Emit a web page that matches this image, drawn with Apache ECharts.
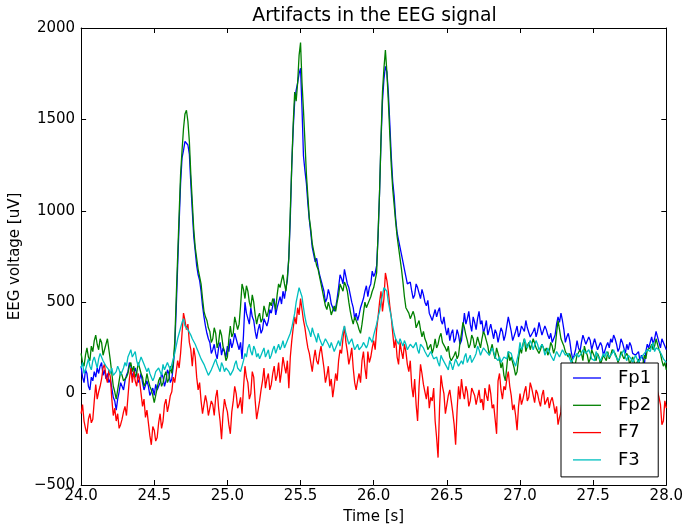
<!DOCTYPE html>
<html>
<head>
<meta charset="utf-8">
<title>Artifacts in the EEG signal</title>
<script src="https://cdn.jsdelivr.net/npm/echarts@6/dist/echarts.min.js"></script>
<style>
  html, body { margin: 0; padding: 0; background: #ffffff; }
  #chart { width: 686px; height: 530px; }
</style>
</head>
<body>
<div id="chart"></div>
<script>
// Sampling of the recording segment (seconds): 100 samples per second
const TIME_START = 24.0;
const SAMPLE_STEP = 0.01;

// Channel names, in drawing order
const channelNames = ['Fp1', 'Fp2', 'F7', 'F3'];
const channelColors = ['#0000ff', '#008000', '#ff0000', '#00bfbf'];

// Axis ticks
const timeTicks = [24.0, 24.5, 25.0, 25.5, 26.0, 26.5, 27.0, 27.5, 28.0];
const voltTicks = [-500, 0, 500, 1000, 1500, 2000];

// EEG voltage per channel [uV]; each row holds 0.1 s of samples
const fp1 = [
  150, 90, 60, 130, 110, 40, 20, 90, 70, 120,
  90, 140, 110, 150, 170, 100, 130, 80, 110, 60,
  80, 30, -20, -40, -90, -30, 10, 60, 40, 20,
  70, 100, 120, 170, 150, 90, 100, 140, 110, 60,
  80, 110, 60, 20, 30, 70, 40, -10, 10, 30,
  -10, 50, 20, 40, 60, 110, 90, 40, 70, 130,
  110, 60, 80, 150, 250, 460, 700, 930, 1150, 1290,
  1330, 1380, 1390, 1360, 1310, 1150, 1000, 860, 780, 700,
  650, 620, 560, 480, 420, 370, 330, 300, 280, 220,
  240, 270, 220, 190, 250, 280, 210, 250, 230, 200,
  260, 230, 300, 250, 280, 330, 320, 270, 240, 280,
  190, 320, 500, 440, 430, 380, 470, 420, 400, 340,
  300, 350, 380, 330, 350, 410, 420, 370, 400, 460,
  440, 480, 520, 430, 470, 500, 530, 490, 560, 520,
  580, 620, 750, 960, 1250, 1450, 1600, 1660, 1700, 1750,
  1780, 1560, 1300, 1220, 1150, 1040, 950, 880, 800, 760,
  720, 740, 690, 650, 620, 590, 560, 500, 520, 570,
  540, 490, 500, 450, 470, 520, 580, 650, 630, 600,
  680, 640, 600, 580, 540, 500, 470, 410, 440, 400,
  430, 470, 480, 520, 560, 590, 530, 580, 600, 670,
  640, 660, 700, 860, 1100, 1380, 1600, 1720, 1790, 1760,
  1650, 1480, 1300, 1160, 1080, 960, 880, 840, 800, 760,
  720, 680, 640, 600, 590, 610, 560, 520, 540, 600,
  580, 550, 520, 570, 540, 500, 480, 510, 440, 420,
  400, 430, 460, 420, 450, 470, 400, 380, 420, 360,
  320, 360, 290, 330, 350, 280, 300, 350, 320, 270,
  290, 360, 440, 380, 410, 450, 380, 340, 420, 390,
  350, 410, 450, 380, 400, 330, 360, 400, 320, 350,
  380, 340, 300, 350, 330, 280, 290, 360, 340, 290,
  320, 370, 420, 380, 340, 290, 300, 340, 370, 310,
  330, 370, 380, 340, 400, 360, 350, 310, 300, 340,
  360, 310, 340, 390, 380, 320, 330, 370, 350, 320,
  300, 330, 280, 300, 320, 380, 420, 390, 440, 400,
  350, 280, 310, 330, 290, 230, 190, 210, 240, 290,
  250, 230, 280, 320, 310, 270, 260, 310, 290, 240,
  250, 300, 270, 240, 230, 280, 260, 210, 220, 260,
  280, 250, 300, 280, 320, 300, 270, 230, 250, 300,
  280, 250, 220, 270, 240, 280, 260, 220, 230, 210,
  200, 230, 180, 210, 190, 160, 230, 270, 250, 280,
  310, 270, 300, 340, 330, 280, 250, 300, 280, 260,
  240
];
const fp2 = [
  220, 170, 150, 210, 250, 200, 180, 260, 230, 290,
  320, 270, 240, 300, 280, 210, 220, 270, 300, 240,
  180, 110, 40, 10, -30, 20, 70, 120, 100, 70,
  60, 90, 110, 150, 170, 120, 150, 90, 110, 170,
  140, 110, 90, 40, 60, 110, 70, 40, 20, -10,
  -50, -10, 30, 70, 90, 40, 60, 100, 120, 60,
  80, 150, 110, 170, 280, 520, 750, 980, 1200, 1330,
  1450, 1530, 1550, 1490, 1380, 1200, 1050, 900, 800, 740,
  680, 640, 600, 520, 450, 420, 400, 360, 340, 280,
  300, 360, 330, 250, 280, 350, 320, 260, 230, 180,
  200, 300, 370, 310, 330, 420, 410, 350, 380, 480,
  600, 570, 520, 590, 560, 500, 470, 540, 500, 430,
  380, 420, 440, 390, 410, 480, 470, 420, 450, 500,
  480, 520, 500, 460, 540, 600, 580, 620, 650, 600,
  560, 640, 740, 1000, 1250, 1480, 1650, 1600, 1700, 1850,
  1920, 1700, 1550, 1380, 1200, 1080, 960, 900, 820, 780,
  740, 700, 680, 640, 600, 560, 520, 480, 460, 500,
  470, 430, 440, 480, 450, 500, 540, 600, 590, 560,
  610, 590, 560, 500, 450, 410, 380, 420, 400, 380,
  350, 330, 380, 440, 500, 470, 460, 510, 530, 560,
  580, 620, 660, 880, 1100, 1400, 1650, 1780, 1880, 1760,
  1600, 1420, 1250, 1120, 1030, 940, 860, 800, 740, 680,
  610, 530, 470, 480, 440, 410, 400, 450, 420, 360,
  380, 400, 350, 310, 340, 300, 280, 240, 250, 270,
  220, 250, 300, 250, 270, 310, 330, 280, 290, 250,
  230, 260, 200, 180, 170, 210, 230, 190, 210, 280,
  330, 390, 360, 320, 290, 250, 270, 320, 300, 250,
  270, 310, 280, 250, 300, 340, 320, 290, 260, 210,
  240, 270, 220, 190, 250, 220, 190, 140, 170, 100,
  70, 150, 230, 180, 200, 170, 140, 100, 120, 190,
  250, 220, 270, 300, 230, 260, 280, 240, 250, 300,
  290, 250, 260, 220, 240, 270, 280, 230, 250, 210,
  230, 280, 260, 220, 250, 330, 400, 350, 300, 280,
  260, 230, 240, 200, 220, 190, 180, 150, 170, 210,
  200, 240, 220, 180, 260, 230, 210, 170, 190, 240,
  220, 200, 180, 220, 200, 160, 170, 210, 200, 180,
  230, 190, 210, 240, 250, 220, 200, 170, 190, 230,
  220, 190, 180, 220, 200, 160, 170, 200, 190, 150,
  170, 190, 150, 130, 160, 210, 190, 240, 230, 250,
  270, 240, 260, 300, 290, 240, 220, 180, 150, 170,
  130
];
const f7 = [
  -110, -60, -150, -190, -220, -140, -110, -160, -140, -40,
  50, -30, 10, 40, 80, 140, 160, 90, 60, 130,
  90, -30, -120, -80, -150, -110, -190, -170, -140, -100,
  -70, -120, -20, 80, 140, 60, 120, 70, 40, 110,
  70, 0, -70, -30, -130, -90, -160, -230, -280, -180,
  -200, -260, -240, -160, -110, -190, -150, -60, -30, -100,
  -60, -10, 10, 90, 60, 120, 180, 140, 220, 330,
  440, 400, 350, 380, 280, 240, 150, 250, 200, 90,
  20, 60, -40, -110, -100, -10, -50, -120, -130, -40,
  -60, -120, -20, 20, -80, -150, -250, -110, -30, -70,
  -100, -170, -220, -100, -40, 40, 0, -80, -60, -20,
  -110, 30, 150, 90, 60, -30, 0, 120, 90, -40,
  -140, -90, -40, 20, 70, 140, 30, 80, 110, 20,
  50, 110, 150, 70, 100, 170, 60, 120, 200, 150,
  110, 180, 30, 200, 290, 360, 420, 380, 470, 430,
  520, 460, 400, 360, 300, 250, 220, 170, 120, 190,
  240, 180, 160, 220, 260, 200, 140, 60, 100, 150,
  40, 80, -20, 40, 110, 70, 180, 240, 220, 300,
  370, 280, 230, 160, 200, 250, 140, 60, 20, 70,
  110, 60, 180, 230, 140, 80, 230, 170, 200, 250,
  290, 240, 350, 420, 500, 560, 450, 520, 660, 620,
  560, 480, 420, 330, 250, 300, 200, 160, 280, 230,
  190, 270, 230, 160, 120, 180, 40, -20, 80, -60,
  -150, 40, 160, 110, 50, 10, -30, 40, -80, -20,
  -40, 30, -150, -240, -350, -80, 100, 40, 0, -110,
  -60, -10, 20, -40, -100, -170, -280, -90, 40, -30,
  80, 10, -30, 40, 10, -70, -40, 30, 20, -10,
  -60, -20, 20, -50, -30, -90, 30, -10, -40, 50,
  0, -80, -60, -140, -220, 70, 110, 20, -30, 40,
  20, 80, 120, 40, -10, -90, -60, -120, -200, -70,
  0, -60, -30, 10, 40, -40, -20, 60, 30, -10,
  -50, 20, 0, -40, -70, -10, 20, -60, -40, -20,
  -80, -40, -20, -60, -110, -70, -170, -130, -100, -10,
  -40, -80, -120, -50, -60, -110, -20, -70, -90, -30,
  -50, -100, -130, -40, -70, -120, -30, -80, -100, -40,
  -60, -110, -140, -60, -80, -20, -40, -90, -110, -60,
  -70, -100, -20, -60, -90, -40, -60, -140, -120, -80,
  -50, -10, -80, -40, -30, -120, -100, -50, -60, -110,
  -130, -90, -70, -20, -40, -110, -90, -60, -20, -80,
  -60, -110, -10, 40, 30, -20, -60, -170, -150, -40,
  -80
];
const f3 = [
  140, 170, 110, 130, 160, 190, 150, 130, 180, 200,
  170, 140, 190, 220, 210, 180, 190, 150, 160, 130,
  110, 140, 100, 90, 120, 150, 130, 100, 110, 140,
  170, 150, 200, 220, 240, 200, 210, 230, 180, 150,
  160, 200, 190, 160, 150, 120, 140, 110, 100, 70,
  90, 120, 110, 140, 130, 100, 160, 130, 120, 170,
  150, 130, 160, 190, 220, 260, 300, 330, 360, 390,
  410, 370, 380, 350, 340, 320, 300, 290, 270, 250,
  230, 210, 190, 180, 160, 140, 130, 100, 110, 130,
  150, 170, 190, 160, 140, 120, 170, 150, 120, 140,
  150, 120, 100, 110, 130, 160, 180, 140, 150, 120,
  110, 180, 220, 200, 250, 270, 230, 210, 260, 240,
  200, 220, 190, 210, 230, 250, 200, 220, 240, 190,
  210, 240, 260, 220, 230, 270, 240, 260, 290, 250,
  260, 290, 300, 330, 360, 400, 440, 500, 540, 580,
  590, 530, 470, 420, 380, 360, 340, 310, 360, 330,
  310, 280, 330, 300, 290, 260, 270, 300, 290, 270,
  250, 280, 270, 230, 240, 270, 290, 260, 300, 340,
  370, 330, 300, 270, 280, 300, 270, 240, 250, 270,
  240, 230, 260, 280, 290, 250, 270, 310, 300, 280,
  320, 350, 380, 420, 450, 500, 540, 580, 590, 560,
  500, 460, 420, 370, 330, 300, 290, 270, 300, 280,
  260, 290, 270, 240, 250, 270, 280, 250, 260, 280,
  240, 220, 270, 280, 250, 230, 220, 200, 190, 230,
  210, 190, 180, 200, 170, 150, 210, 190, 180, 160,
  150, 130, 180, 160, 130, 160, 190, 170, 150, 140,
  180, 160, 200, 220, 170, 190, 210, 170, 180, 200,
  220, 260, 240, 210, 230, 250, 260, 230, 240, 210,
  220, 250, 230, 200, 210, 180, 200, 170, 180, 200,
  210, 190, 230, 240, 220, 190, 170, 150, 160, 220,
  280, 240, 260, 300, 290, 250, 260, 290, 270, 240,
  250, 290, 270, 240, 230, 270, 250, 210, 220, 250,
  230, 210, 200, 180, 190, 230, 220, 200, 210, 240,
  230, 210, 200, 220, 190, 170, 170, 200, 190, 220,
  200, 190, 220, 240, 240, 220, 210, 240, 220, 190,
  200, 180, 230, 210, 210, 180, 190, 220, 200, 230,
  220, 200, 190, 220, 240, 210, 210, 180, 190, 210,
  220, 240, 200, 180, 210, 220, 190, 170, 180, 210,
  200, 170, 180, 200, 190, 220, 210, 240, 250, 230,
  260, 280, 230, 250, 260, 240, 230, 210, 190, 180,
  170
];

const channelValues = [fp1, fp2, f7, f3];

const FONT = "'DejaVu Sans', 'Bitstream Vera Sans', sans-serif";

function toPairs(values) {
  return values.map((v, i) => [+(TIME_START + i * SAMPLE_STEP).toFixed(2), v]);
}

function minusSign(v) {
  return v < 0 ? '\u2212' + Math.abs(v) : String(v);
}

const timeMin = timeTicks[0];
const timeMax = timeTicks[timeTicks.length - 1];
const timeStep = timeTicks[1] - timeTicks[0];
const voltMin = voltTicks[0];
const voltMax = voltTicks[voltTicks.length - 1];
const voltStep = voltTicks[1] - voltTicks[0];

const frameLine = { show: true, onZero: false, lineStyle: { color: '#000', width: 1 } };
const innerTick = { show: true, inside: true, length: 5, lineStyle: { color: '#000', width: 1 } };

const chart = echarts.init(document.getElementById('chart'), null, { renderer: 'canvas' });

chart.setOption({
  backgroundColor: '#ffffff',
  animation: false,
  textStyle: { fontFamily: FONT },
  grid: { left: 81, right: 18, top: 28, bottom: 43, containLabel: false },
  graphic: [{
    type: 'text',
    x: 374.5,
    y: 16,
    style: {
      text: 'Artifacts in the EEG signal',
      font: '18.8px ' + FONT,
      fill: '#000',
      textAlign: 'center',
      textVerticalAlign: 'middle'
    }
  }],
  legend: {
    data: channelNames,
    orient: 'vertical',
    left: 561,
    top: 363,
    padding: [6, 7, 8, 12],
    icon: 'rect',
    itemWidth: 28,
    itemHeight: 1.3,
    itemGap: 9.3,
    backgroundColor: '#ffffff',
    borderColor: '#000000',
    borderWidth: 1,
    borderRadius: 0,
    textStyle: { fontFamily: FONT, fontSize: 18, color: '#000', padding: [0, 0, 0, 12] }
  },
  xAxis: [{
    type: 'value',
    position: 'bottom',
    min: timeMin, max: timeMax, interval: timeStep,
    name: 'Time [s]',
    nameLocation: 'middle',
    nameGap: 25,
    nameTextStyle: { fontFamily: FONT, fontSize: 15, color: '#000' },
    axisLine: frameLine,
    axisTick: innerTick,
    axisLabel: { fontFamily: FONT, fontSize: 15, color: '#000', margin: 4, formatter: v => v.toFixed(1) },
    splitLine: { show: false }
  }, {
    type: 'value',
    position: 'top',
    min: timeMin, max: timeMax, interval: timeStep,
    axisLine: frameLine,
    axisTick: innerTick,
    axisLabel: { show: false },
    splitLine: { show: false }
  }],
  yAxis: [{
    type: 'value',
    position: 'left',
    min: voltMin, max: voltMax, interval: voltStep,
    name: 'EEG voltage [uV]',
    nameLocation: 'middle',
    nameGap: 49,
    nameTextStyle: { fontFamily: FONT, fontSize: 15, color: '#000' },
    axisLine: frameLine,
    axisTick: innerTick,
    axisLabel: { fontFamily: FONT, fontSize: 15, color: '#000', margin: 6, formatter: minusSign },
    splitLine: { show: false }
  }, {
    type: 'value',
    position: 'right',
    min: voltMin, max: voltMax, interval: voltStep,
    axisLine: frameLine,
    axisTick: innerTick,
    axisLabel: { show: false },
    splitLine: { show: false }
  }],
  series: channelNames.map((name, k) => ({
    name: name,
    type: 'line',
    xAxisIndex: 0,
    yAxisIndex: 0,
    data: toPairs(channelValues[k]),
    symbol: 'none',
    showSymbol: false,
    smooth: false,
    color: channelColors[k],
    lineStyle: { color: channelColors[k], width: 1.3 },
    emphasis: { disabled: true }
  }))
});
</script>
</body>
</html>
